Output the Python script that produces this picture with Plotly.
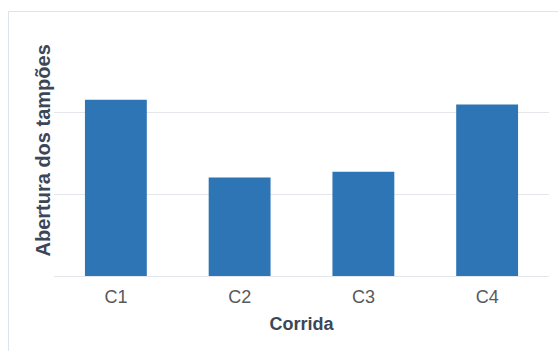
import plotly.graph_objects as go

# Opening of the plugs per run
corridas = ["C1", "C2", "C3", "C4"]
abertura = [21.5, 12.0, 12.7, 20.9]
y_ticks = [0, 10, 20, 30]

W, H = 558, 351
M_L, M_R, M_T, M_B = 54, 9, 30, 75
plot_w = W - M_L - M_R
plot_h = H - M_T - M_B

def px_to_paper_x(px):
    return (px - M_L) / plot_w

def px_to_paper_y(py):
    return (H - M_B - py) / plot_h

fig = go.Figure(
    go.Bar(
        x=corridas,
        y=abertura,
        marker=dict(color="#2e75b6", line=dict(width=0)),
        width=0.5,
    )
)

# Card frame: left and top edges
x0 = px_to_paper_x(8.5)
y0 = px_to_paper_y(11.5)
fig.add_shape(
    type="path",
    xref="paper", yref="paper",
    path=f"M {x0} {px_to_paper_y(H + 5)} L {x0} {y0} L {px_to_paper_x(W + 5)} {y0}",
    line=dict(color="#dfe4ea", width=1),
    layer="below",
)

fig.add_annotation(
    text="<b>Abertura dos tampões</b>",
    xref="paper", yref="paper",
    x=px_to_paper_x(42.5), y=px_to_paper_y(151),
    xanchor="center", yanchor="middle",
    textangle=-90, showarrow=False,
    font=dict(family="Liberation Sans, Arial", size=20, color="#3b4758"),
)

fig.update_layout(
    width=W, height=H,
    margin=dict(l=M_L, r=M_R, t=M_T, b=M_B),
    paper_bgcolor="white",
    plot_bgcolor="white",
    showlegend=False,
    bargap=0.5,
    font=dict(family="Liberation Sans, Arial", size=18, color="#595959"),
    xaxis=dict(
        showline=False,
        showgrid=False,
        ticks="",
        tickfont=dict(size=18, color="#595959"),
        ticklabelstandoff=8,
        title=dict(
            text="<b>Corrida</b>",
            font=dict(size=18, color="#3b4758"),
            standoff=11,
        ),
    ),
    yaxis=dict(
        range=[0, 30],
        tickvals=y_ticks,
        showticklabels=False,
        showgrid=True,
        gridcolor="#e3e7ec",
        gridwidth=1,
        zeroline=True,
        zerolinecolor="#e3e7ec",
        zerolinewidth=1,
        showline=False,
        ticks="",
    ),
)

fig.write_html("out.html")
